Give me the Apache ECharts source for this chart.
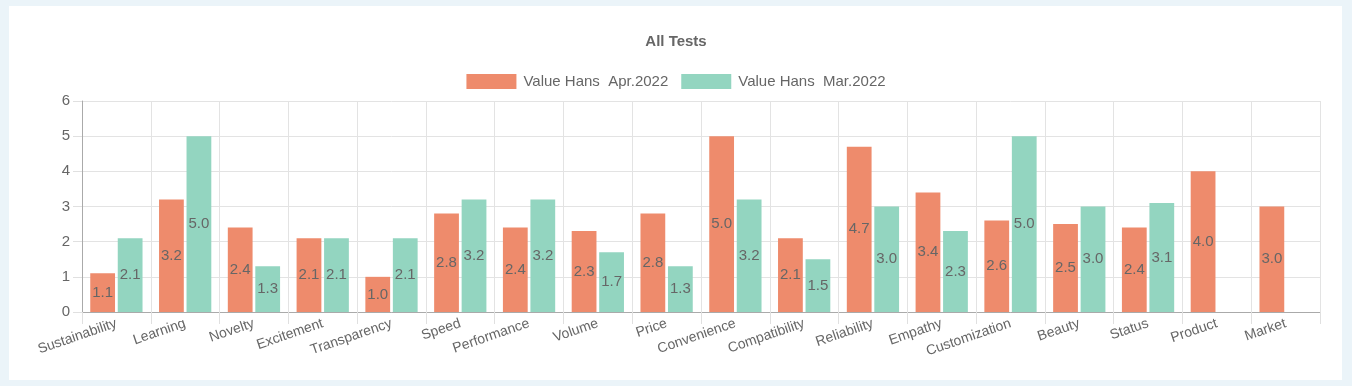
<!DOCTYPE html>
<html>
<head>
<meta charset="utf-8">
<script src="https://cdn.jsdelivr.net/npm/echarts@6/dist/echarts.min.js"></script>
<style>
html,body{margin:0;padding:0;background:#ebf4f9;width:1352px;height:386px;overflow:hidden;}
#card{position:absolute;left:9px;top:6px;width:1333px;height:374px;background:#fff;}
#chart{position:absolute;left:0;top:0;width:1352px;height:386px;}
</style>
</head>
<body>
<div id="card"></div>
<div id="chart"></div>
<script>
const categories = ["Sustainability","Learning","Novelty","Excitement","Transparency","Speed","Performance","Volume","Price","Convenience","Compatibility","Reliability","Empathy","Customization","Beauty","Status","Product","Market"];
const seriesNames = ["Value Hans  Apr.2022","Value Hans  Mar.2022"];
const aprValues = [1.1,3.2,2.4,2.1,1.0,2.8,2.4,2.3,2.8,5.0,2.1,4.7,3.4,2.6,2.5,2.4,4.0,3.0];
const marValues = [2.1,5.0,1.3,2.1,2.1,3.2,3.2,1.7,1.3,3.2,1.5,3.0,2.3,5.0,3.0,3.1,null,null];
const yTicks = [0,1,2,3,4,5,6];

const font = "'Liberation Sans', Arial, Helvetica, sans-serif";
const chart = echarts.init(document.getElementById('chart'));
const labelCfg = {show:true, position:'inside', color:'#666', fontSize:15, fontFamily:font,
  formatter: p => p.value == null ? '' : Number(p.value).toFixed(1)};
chart.setOption({
  animation:false,
  title:{text:'All Tests', left:'center', top:29, textStyle:{fontFamily:font, fontSize:15, fontWeight:'bold', color:'#666'}},
  legend:{top:69, left:'center', itemWidth:50, itemHeight:15, itemGap:13, icon:'rect',
    textStyle:{fontFamily:font, fontSize:15, color:'#666', padding:[0,0,0,2]}, data:seriesNames},
  grid:{left:82, right:32, top:101, bottom:74},
  xAxis:{type:'category', data:categories, boundaryGap:true,
    axisLine:{lineStyle:{color:'#aaa'}},
    axisTick:{show:true, length:12, lineStyle:{color:'#e0e0e0'}},
    splitLine:{show:true, lineStyle:{color:'#e3e3e3'}},
    axisLabel:{rotate:19, interval:0, margin:11, color:'#666', fontSize:14, fontFamily:font}},
  yAxis:{type:'value', min:yTicks[0], max:yTicks[yTicks.length-1], interval:1,
    axisLine:{show:true, lineStyle:{color:'#aaa'}},
    axisTick:{show:true, length:9, lineStyle:{color:'#e0e0e0'}},
    splitLine:{lineStyle:{color:'#e3e3e3'}},
    axisLabel:{color:'#666', fontSize:15, fontFamily:font, margin:12}},
  series:[
    {name:seriesNames[0], type:'bar', data:aprValues, barGap:'11%', barCategoryGap:'24%',
     itemStyle:{color:'#ee8b6c'}, label:labelCfg},
    {name:seriesNames[1], type:'bar', data:marValues,
     itemStyle:{color:'#93d5c0'}, label:labelCfg}
  ]
});
</script>
</body>
</html>
